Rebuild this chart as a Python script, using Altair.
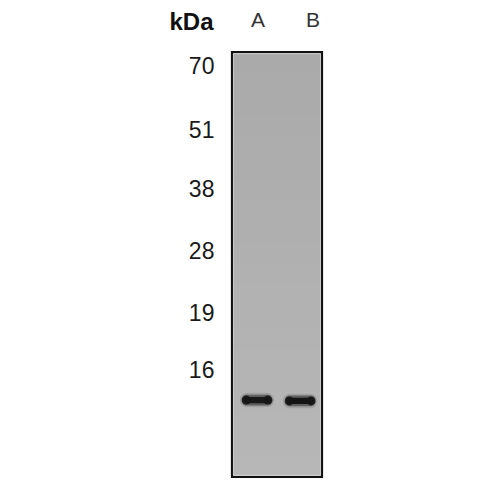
import altair as alt
import pandas as pd

# Molecular-weight ladder (kDa) and relative migration on the membrane (0 = top, 1 = bottom)
marker_labels = ["70", "51", "38", "28", "19", "16"]
marker_rf = [0.035, 0.186, 0.325, 0.471, 0.616, 0.751]

# Sample lanes
lanes = ["A", "B"]
lane_center = [0.278, 0.757]        # relative position across the membrane
band_rf = [0.819, 0.821]            # migration of the detected band
band_intensity = [0.92, 1.0]

markers = pd.DataFrame({"label": marker_labels, "rf": marker_rf, "xr": [-0.195] * len(marker_labels)})
bands = pd.DataFrame({"lane": lanes, "x": lane_center, "rf": band_rf, "intensity": band_intensity})

HW = 0.150   # half length of band core (membrane units)
HH = 0.0075  # half thickness of band core
bands["x0"] = bands["x"] - HW
bands["x1"] = bands["x"] + HW
bands["y0"] = bands["rf"] - HH * (0.8 + 0.2 * bands["intensity"])
bands["y1"] = bands["rf"] + HH * (0.8 + 0.2 * bands["intensity"])
bands["hx0"] = bands["x"] - HW - 0.022
bands["hx1"] = bands["x"] + HW + 0.022
bands["hy0"] = bands["rf"] - 0.0125
bands["hy1"] = bands["rf"] + 0.0125
bands["gx0"] = bands["x"] - HW - 0.04
bands["gx1"] = bands["x"] + HW + 0.04
bands["gy0"] = bands["rf"] - 0.017
bands["gy1"] = bands["rf"] + 0.017

# bulbous band ends
ends = pd.DataFrame({
    "x": [c - HW + 0.03 for c in lane_center] + [c + HW - 0.03 for c in lane_center],
    "rf": band_rf + band_rf,
})

lane_label_x = [0.289, 0.90]
lane_df = pd.DataFrame({"lane": lanes, "x": lane_label_x, "y": [-0.0725, -0.0725]})
kda_df = pd.DataFrame({"t": ["kDa"], "x": [-0.205], "y": [-0.0685]})

X = alt.Scale(domain=[-2.489, 2.889], nice=False, zero=False)
Y = alt.Scale(domain=[-0.1035, 1.0353], nice=False, zero=False, reverse=True)

FONT = "Liberation Sans"

# membrane shading strips (top slightly darker than bottom), overlapped to avoid seams
N = 20
shade = pd.DataFrame({
    "y0": [i / N for i in range(N)],
    "y1": [min(1.0, (i + 1) / N + 0.01) for i in range(N)],
    "g": [i / (N - 1) for i in range(N)],
})
shade["x0"] = 0.0
shade["x1"] = 1.0

membrane = alt.Chart(shade).mark_rect().encode(
    x=alt.X("x0:Q", scale=X, axis=None),
    x2="x1:Q",
    y=alt.Y("y0:Q", scale=Y, axis=None),
    y2="y1:Q",
    color=alt.Color("g:Q", scale=alt.Scale(domain=[0, 1], range=["#aaaaaa", "#b7b7b7"]), legend=None),
)

frame_df = pd.DataFrame({"x0": [0.0], "x1": [1.0], "y0": [0.0], "y1": [1.0]})
frame = alt.Chart(frame_df).mark_rect(fillOpacity=0, stroke="#111111", strokeWidth=2.2).encode(
    x=alt.X("x0:Q", scale=X, axis=None), x2="x1:Q",
    y=alt.Y("y0:Q", scale=Y, axis=None), y2="y1:Q",
)

inner_df = pd.DataFrame({"x0": [0.016], "x1": [0.984], "y0": [0.004], "y1": [0.996]})
inner = alt.Chart(inner_df).mark_rect(fillOpacity=0, stroke="#dddddd", strokeWidth=1, strokeOpacity=0.7).encode(
    x=alt.X("x0:Q", scale=X, axis=None), x2="x1:Q",
    y=alt.Y("y0:Q", scale=Y, axis=None), y2="y1:Q",
)

glow = alt.Chart(bands).mark_rect(color="#444444", cornerRadius=7, opacity=0.18).encode(
    x=alt.X("gx0:Q", scale=X, axis=None), x2="gx1:Q",
    y=alt.Y("gy0:Q", scale=Y, axis=None), y2="gy1:Q",
)

halo = alt.Chart(bands).mark_rect(color="#2a2a2a", cornerRadius=5, opacity=0.55).encode(
    x=alt.X("hx0:Q", scale=X, axis=None), x2="hx1:Q",
    y=alt.Y("hy0:Q", scale=Y, axis=None), y2="hy1:Q",
)

band = alt.Chart(bands).mark_rect(color="#141414", cornerRadius=3).encode(
    x=alt.X("x0:Q", scale=X, axis=None), x2="x1:Q",
    y=alt.Y("y0:Q", scale=Y, axis=None), y2="y1:Q",
    opacity=alt.Opacity("intensity:Q", scale=alt.Scale(domain=[0, 1], range=[0, 1]), legend=None),
)

bulbs = alt.Chart(ends).mark_circle(color="#151515", size=80, opacity=0.9).encode(
    x=alt.X("x:Q", scale=X, axis=None),
    y=alt.Y("rf:Q", scale=Y, axis=None),
)

marker_text = alt.Chart(markers).mark_text(
    align="right", baseline="middle", font=FONT, fontSize=23, color="#1a1a1a"
).encode(
    x=alt.X("xr:Q", scale=X, axis=None),
    y=alt.Y("rf:Q", scale=Y, axis=None),
    text="label:N",
)

kda = alt.Chart(kda_df).mark_text(
    align="right", baseline="middle", font=FONT, fontSize=24, fontWeight="bold", color="#111111"
).encode(
    x=alt.X("x:Q", scale=X, axis=None),
    y=alt.Y("y:Q", scale=Y, axis=None),
    text="t:N",
)

lane_text = alt.Chart(lane_df).mark_text(
    align="center", baseline="middle", font=FONT, fontSize=21, color="#333333"
).encode(
    x=alt.X("x:Q", scale=X, axis=None),
    y=alt.Y("y:Q", scale=Y, axis=None),
    text="lane:N",
)

chart = alt.layer(membrane, frame, inner, glow, halo, band, bulbs, marker_text, kda, lane_text).properties(
    width=484, height=484, autosize=alt.AutoSizeParams(type="none"), padding=0,
    background="white",
).configure_view(stroke=None)

chart.save("out.html", embed_options={"renderer": "svg", "actions": False})
